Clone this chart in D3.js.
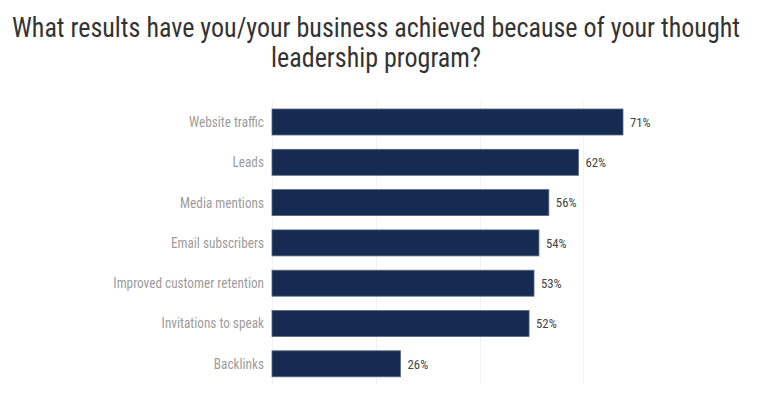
<!DOCTYPE html>
<html>
<head>
<meta charset="utf-8">
<script src="https://cdn.jsdelivr.net/npm/d3@7"></script>
<style>
  html, body { margin: 0; padding: 0; background: #fff; }
  svg { display: block; }
  text { font-family: "Roboto Condensed", Roboto, "Noto Sans", sans-serif; }
</style>
</head>
<body>
<svg id="chart" width="772" height="393"></svg>
<script>
const titleLines = ["What results have you/your business achieved because of your thought", "leadership program?"];
const categories = ["Website traffic", "Leads", "Media mentions", "Email subscribers", "Improved customer retention", "Invitations to speak", "Backlinks"];
const values = [71, 62, 56, 54, 53, 52, 26];
const gridValues = [0, 21, 42, 63];

const W = 772, H = 393;
const svg = d3.select("#chart");

const x = d3.scaleLinear().domain([0, 71]).range([272, 623]);
const y = d3.scaleBand().domain(categories).range([101.85, 383.95]).paddingInner(0.355).paddingOuter(0.1775);

// gridlines
svg.append("g").selectAll("line").data(gridValues).join("line")
  .attr("x1", d => Math.round(x(d)) + 0.5).attr("x2", d => Math.round(x(d)) + 0.5)
  .attr("y1", y.range()[0]).attr("y2", y.range()[1])
  .attr("stroke", "#f2f2f2").attr("stroke-width", 1);

// title
const title = svg.append("g").selectAll("text").data(titleLines).join("text")
  .attr("x", 376)
  .attr("y", (d, i) => 37 + i * 30)
  .attr("text-anchor", "middle")
  .attr("font-size", 27.5)
  .attr("fill", "#333")
  .text(d => d);

// bars
svg.append("g").selectAll("rect").data(values).join("rect")
  .attr("x", x(0))
  .attr("y", (d, i) => y(categories[i]))
  .attr("width", d => x(d) - x(0))
  .attr("height", y.bandwidth())
  .attr("fill", "#152b51")
  .attr("stroke", "#5a6884")
  .attr("stroke-width", 0.8);

// category labels
const catLabels = svg.append("g").selectAll("text").data(categories).join("text")
  .attr("x", 264)
  .attr("y", d => y(d) + y.bandwidth() / 2)
  .attr("dy", "0.35em")
  .attr("text-anchor", "end")
  .attr("font-size", 14)
  .attr("fill", "#9c9c9c")
  .text(d => d);

// value labels
const valLabels = svg.append("g").selectAll("text").data(values).join("text")
  .attr("x", d => x(d) + 7)
  .attr("y", (d, i) => y(categories[i]) + y.bandwidth() / 2)
  .attr("dy", "0.35em")
  .attr("font-size", 13.5)
  .attr("fill", "#444")
  .text(d => d + "%");

// condense text to match the narrow font of the reference, if needed
const firstTitle = title.nodes()[0];
const measured = firstTitle.getComputedTextLength();
const k = 728 / measured;
if (k < 0.98) {
  svg.selectAll("text").each(function () {
    const w = this.getComputedTextLength();
    d3.select(this).attr("textLength", w * k).attr("lengthAdjust", "spacingAndGlyphs");
  });
}
</script>
</body>
</html>
